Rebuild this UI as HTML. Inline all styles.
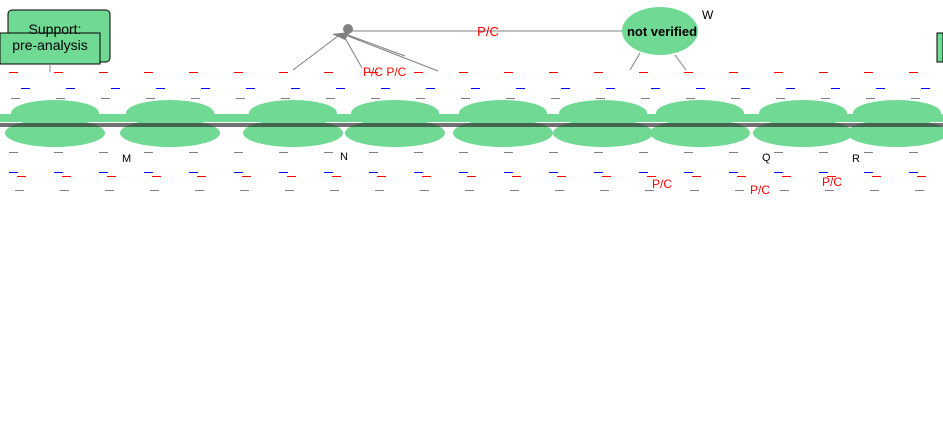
<!DOCTYPE html>
<html><head><meta charset="utf-8"><style>
html,body{margin:0;padding:0;background:#fff;width:943px;height:429px;overflow:hidden}
svg{display:block}
text{font-family:"Liberation Sans",sans-serif}
</style></head><body>
<svg width="943" height="429" viewBox="0 0 943 429">
<g>
<rect x="8" y="10" width="102" height="52" rx="4" fill="#70d994" stroke="#000"/>
<rect x="0" y="33" width="100" height="31" fill="#70d994" stroke="#000"/>
<text x="55" y="34" font-size="14" text-anchor="middle">Support:</text>
<text x="50" y="50" font-size="14" text-anchor="middle">pre-analysis</text>
</g>
<line x1="50" y1="64" x2="50" y2="72" stroke="#808080"/>
<g>
<circle cx="348" cy="29" r="5" fill="#808080"/>
<polygon points="332,34 350,32 345,40" fill="#808080"/>
</g>
<line x1="350" y1="31" x2="625" y2="31" stroke="#808080"/>
<text x="488" y="36" font-size="13" fill="#f00" text-anchor="middle">P/C</text>
<g stroke="#808080">
<line x1="338" y1="36" x2="293" y2="70"/><line x1="345" y1="38" x2="362" y2="68"/>
<line x1="348" y1="36" x2="438" y2="71"/><line x1="348" y1="35" x2="405" y2="56"/>
<line x1="640" y1="53" x2="630" y2="70"/><line x1="675" y1="55" x2="686" y2="70"/>
</g>
<text x="363" y="76" font-size="12" fill="#f00">P/C  P/C</text>
<g>
<ellipse cx="660" cy="31" rx="38" ry="24" fill="#70d994"/>
<text x="662" y="36" font-size="13" text-anchor="middle" font-weight="bold">not verified</text>
</g>
<text x="702" y="19" font-size="12">W</text>
<rect x="937" y="33" width="6" height="29" fill="#70d994" stroke="#000"/>
<g id="blobs"></g>
<g id="scatter"></g>
<text x="122" y="162" font-size="11">M</text>
<text x="340" y="160" font-size="11">N</text>
<text x="762" y="161" font-size="11">Q</text>
<text x="852" y="162" font-size="11">R</text>
<text x="652" y="188" font-size="12" fill="#f00">P/C</text>
<text x="750" y="194" font-size="12" fill="#f00">P/C</text>
<text x="822" y="186" font-size="12" fill="#f00">P/C</text>
</svg>
<script>
const blobCenters=[55,170,293,395,503,603,700,803,897];
const g=document.getElementById('blobs');
const NS='http://www.w3.org/2000/svg';
blobCenters.forEach(function(cx){
  const a=document.createElementNS(NS,'ellipse');
  a.setAttribute('cx',cx);a.setAttribute('cy',113);a.setAttribute('rx',44);a.setAttribute('ry',13);a.setAttribute('fill','#70d994');
  
  
  g.appendChild(a);
  const b=document.createElementNS(NS,'ellipse');
  b.setAttribute('cx',cx);b.setAttribute('cy',133);b.setAttribute('rx',50);b.setAttribute('ry',14);b.setAttribute('fill','#70d994');
  
  
  g.appendChild(b);
});
const band=document.createElementNS(NS,'rect');
band.setAttribute('x',0);band.setAttribute('y',114);band.setAttribute('width',943);band.setAttribute('height',8);band.setAttribute('fill','#70d994');


g.appendChild(band);
const strip=document.createElementNS(NS,'rect');
strip.setAttribute('x',0);strip.setAttribute('y',123);strip.setAttribute('width',943);strip.setAttribute('height',4);strip.setAttribute('fill','#333');strip.setAttribute('opacity','0.7');


g.appendChild(strip);
const s=document.getElementById('scatter');
const rows=[[72,'#f00'],[88,'#00f'],[98,'#808080'],[152,'#808080'],[172,'#00f'],[176,'#f00'],[190,'#808080']];
rows.forEach(function(r){
  for(let x=5;x<940;x+=45){
    const l=document.createElementNS(NS,'rect');
    l.setAttribute('x',x+(r[0]*7)%20);l.setAttribute('y',r[0]);l.setAttribute('width',9);l.setAttribute('height',1);l.setAttribute('fill',r[1]);
    
    
    s.appendChild(l);
  }
});
</script>
</body></html>
